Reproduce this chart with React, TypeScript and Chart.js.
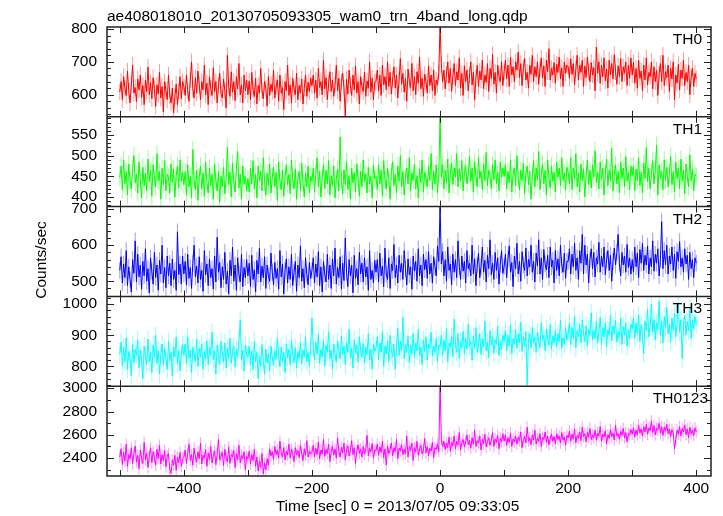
import React, { useEffect, useRef } from 'react';
import { Chart, registerables } from 'chart.js';

Chart.register(...registerables);

const TITLE = 'ae408018010_20130705093305_wam0_trn_4band_long.qdp';
const X_TITLE = 'Time [sec] 0 = 2013/07/05 09:33:05';
const Y_TITLE = 'Counts/sec';

const T_START = -500;
const T_BIN = 2;
const X_MIN = -520;
const X_MAX = 423;
const xTickLabels = [-400, -200, 0, 200, 400];
const X_MARK_STEP = 100;

const bandNames = ['TH0', 'TH1', 'TH2', 'TH3', 'TH0123'];
const bandColors = ['#ff0000', '#00ff00', '#0000ff', '#00ffff', '#ff00ff'];
const bandErrColors = ['rgba(255,0,0,0.4)', 'rgba(0,255,0,0.4)', 'rgba(0,0,255,0.4)', 'rgba(0,255,255,0.4)', 'rgba(255,0,255,0.4)'];
const bandErrors = [25, 21, 23, 29, 50];
const yMins = [533, 377, 458, 736, 2247];
const yMaxs = [806, 594, 707, 1025, 3017];
const yMajorTicks = [
  [600, 700, 800],
  [400, 450, 500, 550],
  [500, 600, 700],
  [800, 900, 1000],
  [2400, 2600, 2800, 3000],
];
const yMinorSteps = [20, 10, 20, 20, 100];

const th0 = [
  608, 640, 585, 655, 620, 598, 672, 612, 575, 633, 690, 605, 622, 580, 648, 615, 660, 592, 628, 570, 645, 610, 684, 600, 637, 588, 652, 618, 565, 630, 602, 668, 590, 625, 548, 640, 612, 585, 660, 598, 575, 620, 545, 595, 632, 570, 610, 655, 588, 640,
  625, 598, 660, 612, 580, 645, 700, 618, 590, 652, 605, 672, 630, 585, 640, 615, 690, 600, 635, 570, 655, 620, 598, 682, 610, 640, 575, 628, 665, 603, 590, 648, 612, 560, 720, 625, 595, 670, 608, 640, 582, 655, 618, 695, 600, 630, 575, 660, 612, 645,
  600, 642, 585, 668, 615, 595, 650, 572, 628, 605, 680, 612, 588, 640, 620, 565, 655, 598, 632, 610, 675, 590, 625, 645, 580, 660, 605, 622, 555, 640, 612, 690, 598, 630, 575, 650, 618, 600, 665, 585, 628, 605, 648, 572, 620, 660, 595, 638, 610, 650,
  628, 660, 605, 645, 590, 680, 622, 640, 600, 705, 618, 652, 585, 635, 670, 610, 645, 595, 628, 690, 612, 650, 580, 640, 665, 620, 535, 648, 602, 675, 630, 598, 660, 615, 688, 605, 640, 572, 655, 625, 610, 668, 595, 642, 620, 700, 608, 650, 585, 638,
  640, 675, 612, 660, 598, 690, 630, 655, 615, 700, 625, 668, 602, 648, 685, 620, 660, 590, 645, 710, 632, 665, 608, 650, 580, 678, 640, 622, 695, 612, 655, 600, 670, 635, 715, 618, 650, 595, 662, 640, 605, 688, 628, 660, 612, 675, 598, 645, 630, 668,
  815, 690, 640, 675, 618, 662, 700, 635, 680, 610, 655, 695, 628, 670, 645, 712, 620, 665, 598, 688, 640, 675, 612, 660, 700, 630, 668, 585, 650, 690, 625, 672, 645, 705, 618, 660, 638, 695, 610, 680, 650, 722, 632, 668, 605, 690, 655, 640, 700, 628,
  670, 705, 648, 690, 625, 715, 660, 685, 640, 700, 675, 730, 652, 695, 628, 682, 710, 645, 668, 620, 690, 662, 720, 640, 685, 655, 700, 632, 678, 712, 650, 688, 625, 705, 670, 740, 645, 680, 660, 698, 635, 692, 668, 715, 648, 682, 625, 700, 665, 690,
  685, 650, 710, 662, 695, 630, 678, 720, 645, 690, 668, 705, 625, 688, 652, 715, 670, 640, 698, 660, 682, 612, 745, 665, 700, 635, 690, 655, 712, 642, 678, 620, 705, 660, 695, 648, 722, 670, 632, 688, 655, 710, 640, 685, 665, 700, 628, 690, 650, 712,
  660, 698, 635, 680, 620, 705, 650, 672, 612, 690, 645, 712, 630, 668, 655, 700, 618, 685, 640, 675, 598, 662, 695, 640, 720, 628, 670, 652, 690, 610, 680, 648, 700, 585, 660, 635, 692, 615, 675, 650, 705, 628, 668, 640, 690, 600, 655, 680, 625, 665,
  648,
];

const th1 = [
  448, 475, 418, 490, 432, 462, 405, 480, 440, 420, 468, 500, 435, 455, 410, 485, 442, 398, 472, 428, 458, 415, 492, 438, 465, 402, 478, 445, 425, 505, 440, 462, 395, 470, 430, 488, 415, 455, 448, 410, 480, 435, 468, 400, 452, 475, 422, 490, 438, 460,
  430, 462, 405, 478, 425, 450, 398, 515, 440, 418, 465, 392, 448, 475, 420, 458, 402, 485, 435, 410, 470, 428, 455, 395, 480, 440, 415, 462, 388, 450, 425, 472, 408, 445, 520, 430, 460, 400, 482, 438, 412, 468, 510, 422, 455, 395, 475, 432, 450, 415,
  445, 412, 470, 432, 488, 420, 455, 398, 475, 440, 462, 415, 495, 436, 405, 458, 428, 480, 410, 448, 472, 425, 460, 392, 485, 438, 418, 465, 402, 450, 478, 430, 455, 408, 490, 442, 420, 468, 395, 445, 462, 415, 482, 435, 400, 458, 425, 475, 410, 450,
  438, 470, 412, 455, 495, 425, 462, 400, 448, 478, 420, 465, 432, 488, 405, 452, 428, 475, 398, 442, 468, 415, 545, 440, 408, 466, 430, 485, 418, 452, 395, 470, 435, 460, 412, 480, 445, 402, 462, 425, 490, 438, 455, 410, 472, 432, 450, 398, 478, 445,
  450, 418, 478, 432, 465, 402, 488, 440, 420, 470, 445, 395, 462, 485, 428, 455, 410, 475, 438, 500, 425, 462, 405, 448, 470, 432, 495, 415, 458, 440, 480, 420, 452, 398, 468, 435, 490, 412, 460, 445, 425, 475, 440, 505, 418, 462, 432, 478, 410, 455,
  595, 448, 478, 420, 465, 435, 492, 410, 458, 482, 430, 470, 448, 505, 425, 468, 440, 488, 415, 460, 476, 432, 455, 498, 438, 470, 412, 485, 450, 425, 495, 445, 462, 418, 480, 440, 508, 428, 465, 452, 420, 478, 442, 490, 432, 460, 415, 485, 448, 470,
  450, 478, 420, 462, 435, 490, 412, 455, 470, 428, 500, 445, 418, 465, 440, 482, 408, 458, 475, 430, 462, 395, 450, 488, 425, 470, 442, 510, 418, 455, 480, 432, 465, 405, 490, 445, 422, 475, 438, 460, 412, 485, 448, 470, 428, 495, 440, 458, 418, 472,
  460, 432, 495, 418, 470, 445, 505, 425, 458, 412, 480, 440, 468, 400, 455, 490, 430, 465, 422, 478, 448, 512, 435, 460, 420, 485, 442, 470, 405, 458, 492, 428, 465, 440, 518, 415, 455, 478, 432, 462, 410, 485, 445, 470, 425, 498, 438, 460, 418, 475,
  452, 475, 415, 468, 440, 495, 428, 460, 410, 482, 445, 520, 438, 470, 420, 458, 488, 432, 465, 525, 405, 478, 445, 462, 418, 490, 440, 472, 425, 455, 498, 430, 462, 412, 485, 445, 470, 420, 492, 438, 465, 408, 480, 450, 425, 502, 440, 468, 415, 455,
  450,
];

const th2 = [
  530, 568, 495, 548, 510, 585, 488, 540, 505, 470, 560, 522, 612, 498, 575, 512, 545, 478, 555, 515, 590, 500, 535, 468, 565, 528, 492, 580, 510, 545, 475, 558, 520, 600, 495, 538, 482, 570, 515, 550, 488, 562, 505, 530, 475, 637, 518, 548, 492, 570,
  520, 555, 490, 575, 508, 538, 480, 550, 600, 512, 542, 495, 568, 505, 530, 472, 585, 518, 548, 488, 562, 510, 535, 478, 570, 498, 622, 525, 552, 482, 540, 505, 580, 492, 528, 465, 558, 515, 595, 500, 545, 475, 565, 520, 498, 575, 485, 538, 510, 560,
  515, 550, 485, 572, 505, 532, 470, 558, 520, 592, 498, 542, 510, 568, 480, 545, 515, 500, 578, 525, 490, 552, 508, 535, 478, 585, 512, 548, 465, 530, 562, 495, 540, 505, 575, 488, 525, 555, 472, 545, 510, 598, 500, 535, 482, 565, 518, 490, 552, 508,
  530, 565, 495, 548, 512, 582, 488, 540, 470, 555, 520, 498, 575, 505, 545, 480, 562, 515, 592, 492, 538, 510, 568, 478, 550, 502, 620, 525, 485, 560, 515, 545, 468, 572, 508, 535, 490, 580, 520, 550, 498, 565, 512, 540, 475, 585, 505, 530, 495, 558,
  525, 560, 498, 578, 515, 542, 485, 592, 520, 505, 565, 480, 548, 530, 602, 510, 545, 495, 572, 525, 550, 505, 585, 535, 490, 562, 518, 540, 478, 570, 528, 555, 500, 590, 515, 545, 488, 575, 532, 560, 508, 582, 520, 550, 495, 568, 540, 515, 598, 555,
  710, 548, 582, 515, 560, 500, 595, 530, 548, 490, 575, 525, 560, 510, 612, 540, 505, 570, 528, 555, 495, 585, 535, 550, 515, 600, 520, 562, 488, 545, 578, 510, 540, 595, 525, 558, 498, 572, 535, 615, 518, 550, 505, 580, 530, 565, 492, 548, 585, 522,
  540, 575, 510, 562, 598, 525, 552, 485, 570, 535, 605, 520, 555, 500, 582, 545, 530, 592, 515, 560, 540, 600, 525, 555, 498, 578, 542, 615, 520, 565, 505, 588, 548, 532, 572, 510, 595, 540, 558, 495, 585, 530, 562, 515, 600, 545, 525, 578, 508, 555,
  555, 590, 520, 575, 540, 605, 530, 565, 505, 585, 550, 630, 520, 600, 545, 575, 495, 560, 590, 535, 580, 512, 565, 548, 608, 525, 570, 540, 595, 518, 560, 585, 530, 572, 500, 555, 592, 545, 580, 630, 550, 515, 580, 545, 570, 525, 602, 538, 565, 520,
  560, 525, 595, 540, 578, 510, 588, 550, 605, 530, 572, 545, 598, 520, 565, 540, 612, 528, 575, 550, 590, 515, 560, 665, 535, 585, 545, 600, 520, 570, 548, 595, 530, 575, 508, 582, 555, 610, 540, 565, 525, 590, 548, 572, 505, 580, 535, 560, 510, 565,
  550,
];

const th3 = [
  840, 878, 800, 862, 815, 892, 790, 848, 825, 770, 870, 812, 855, 835, 885, 795, 852, 820, 760, 865, 832, 805, 888, 815, 845, 780, 868, 828, 900, 810, 850, 775, 838, 872, 805, 858, 825, 790, 880, 818, 845, 768, 862, 830, 895, 808, 852, 785, 840, 870,
  835, 872, 810, 895, 825, 852, 780, 862, 840, 815, 888, 800, 858, 830, 872, 790, 848, 825, 882, 805, 860, 835, 910, 820, 850, 775, 868, 838, 805, 880, 842, 815, 875, 795, 858, 828, 890, 810, 848, 865, 798, 855, 830, 882, 950, 820, 852, 785, 868, 840,
  830, 865, 805, 850, 790, 880, 815, 845, 760, 835, 800, 870, 818, 775, 855, 810, 840, 785, 865, 830, 805, 850, 822, 890, 835, 798, 862, 815, 845, 780, 872, 828, 855, 805, 885, 838, 812, 860, 795, 848, 825, 878, 808, 852, 830, 895, 815, 845, 800, 862,
  955, 860, 820, 878, 840, 902, 810, 855, 830, 885, 800, 868, 845, 912, 825, 852, 790, 872, 840, 815, 882, 850, 825, 898, 838, 865, 805, 878, 845, 920, 828, 858, 795, 885, 842, 868, 815, 895, 850, 830, 875, 810, 862, 838, 905, 820, 855, 790, 870, 848,
  860, 895, 820, 875, 845, 912, 800, 865, 840, 882, 815, 900, 850, 830, 872, 790, 862, 922, 835, 880, 852, 958, 825, 870, 845, 898, 812, 868, 840, 905, 828, 875, 850, 918, 835, 862, 805, 885, 848, 895, 820, 872, 858, 910, 832, 865, 845, 890, 815, 868,
  862, 900, 835, 885, 850, 922, 815, 875, 860, 895, 830, 952, 870, 845, 905, 825, 882, 860, 912, 840, 890, 855, 935, 865, 880, 820, 898, 858, 925, 845, 872, 905, 838, 888, 862, 945, 850, 878, 828, 915, 868, 895, 842, 885, 870, 930, 835, 880, 855, 900,
  880, 915, 850, 900, 865, 935, 840, 890, 870, 918, 858, 905, 875, 942, 848, 895, 862, 912, 740, 885, 905, 860, 925, 875, 895, 845, 910, 880, 860, 940, 885, 900, 850, 920, 890, 868, 935, 855, 898, 875, 915, 862, 905, 880, 948, 858, 892, 870, 925, 885,
  905, 940, 870, 925, 890, 962, 860, 915, 895, 935, 875, 950, 905, 880, 930, 865, 920, 900, 972, 885, 915, 890, 945, 875, 910, 958, 870, 925, 895, 940, 862, 918, 900, 965, 882, 930, 905, 948, 878, 912, 892, 955, 870, 928, 900, 940, 865, 918, 890, 935,
  920, 955, 890, 940, 905, 965, 880, 935, 900, 840, 945, 915, 985, 895, 930, 1000, 910, 950, 885, 940, 918, 1010, 900, 945, 875, 960, 925, 990, 905, 935, 880, 955, 915, 970, 895, 940, 1005, 910, 950, 825, 930, 965, 900, 945, 915, 985, 890, 950, 920, 960,
  935,
];

const th0123 = [
  2410, 2480, 2345, 2450, 2375, 2520, 2330, 2430, 2395, 2490, 2350, 2440, 2505, 2365, 2425, 2310, 2470, 2400, 2355, 2535, 2385, 2445, 2320, 2415, 2490, 2360, 2455, 2405, 2340, 2475, 2395, 2510, 2350, 2430, 2380, 2465, 2325, 2420, 2440, 2300, 2270, 2385, 2340, 2425, 2295, 2410, 2360, 2450, 2330, 2395,
  2405, 2470, 2355, 2440, 2520, 2380, 2430, 2340, 2485, 2410, 2365, 2455, 2395, 2530, 2350, 2425, 2400, 2475, 2330, 2445, 2390, 2500, 2360, 2420, 2460, 2345, 2435, 2560, 2385, 2415, 2450, 2335, 2475, 2400, 2370, 2495, 2355, 2430, 2410, 2465, 2320, 2440, 2385, 2510, 2360, 2425, 2395, 2455, 2300, 2415,
  2395, 2460, 2350, 2430, 2380, 2475, 2330, 2410, 2290, 2375, 2320, 2440, 2265, 2360, 2300, 2395, 2340, 2480, 2420, 2455, 2390, 2500, 2430, 2470, 2400, 2545, 2445, 2410, 2490, 2385, 2460, 2425, 2520, 2400, 2475, 2440, 2370, 2490, 2430, 2465, 2405, 2510, 2445, 2380, 2480, 2425, 2550, 2410, 2460, 2435,
  2450, 2510, 2410, 2485, 2430, 2540, 2395, 2470, 2435, 2560, 2415, 2475, 2440, 2520, 2370, 2460, 2500, 2425, 2480, 2400, 2575, 2455, 2410, 2495, 2445, 2530, 2385, 2470, 2505, 2420, 2465, 2550, 2430, 2490, 2355, 2460, 2515, 2440, 2480, 2410, 2500, 2435, 2470, 2595, 2420, 2485, 2455, 2525, 2400, 2470,
  2465, 2520, 2425, 2495, 2450, 2545, 2405, 2480, 2340, 2505, 2440, 2475, 2530, 2420, 2490, 2455, 2560, 2395, 2485, 2460, 2515, 2430, 2475, 2440, 2590, 2410, 2500, 2465, 2530, 2380, 2490, 2455, 2545, 2425, 2480, 2510, 2435, 2470, 2570, 2445, 2500, 2420, 2485, 2460, 2535, 2405, 2490, 2475, 2520, 2455,
  3050, 2560, 2500, 2545, 2475, 2530, 2490, 2580, 2460, 2535, 2505, 2590, 2480, 2545, 2515, 2620, 2470, 2530, 2560, 2495, 2540, 2600, 2515, 2555, 2485, 2575, 2520, 2640, 2500, 2550, 2530, 2590, 2470, 2560, 2525, 2605, 2495, 2545, 2575, 2510, 2550, 2620, 2500, 2565, 2535, 2595, 2480, 2570, 2540, 2610,
  2545, 2600, 2510, 2575, 2535, 2615, 2500, 2565, 2540, 2590, 2520, 2580, 2550, 2625, 2490, 2560, 2585, 2530, 2665, 2545, 2575, 2515, 2600, 2555, 2640, 2520, 2570, 2545, 2610, 2500, 2580, 2560, 2625, 2535, 2590, 2515, 2570, 2605, 2545, 2585, 2525, 2610, 2560, 2590, 2530, 2620, 2555, 2580, 2510, 2595,
  2575, 2630, 2545, 2605, 2565, 2650, 2530, 2595, 2570, 2625, 2550, 2665, 2585, 2610, 2540, 2620, 2580, 2655, 2560, 2600, 2575, 2640, 2555, 2615, 2590, 2670, 2545, 2605, 2580, 2635, 2520, 2600, 2570, 2645, 2585, 2615, 2555, 2680, 2590, 2610, 2565, 2630, 2595, 2655, 2575, 2620, 2540, 2610, 2600, 2645,
  2605, 2660, 2580, 2640, 2600, 2685, 2615, 2650, 2590, 2670, 2625, 2690, 2605, 2660, 2635, 2720, 2620, 2680, 2600, 2655, 2640, 2700, 2615, 2670, 2595, 2665, 2630, 2690, 2610, 2650, 2585, 2645, 2620, 2480, 2560, 2640, 2605, 2670, 2590, 2655, 2625, 2685, 2600, 2650, 2575, 2665, 2610, 2640, 2595, 2660,
  2625,
];

const bandSeries = [th0, th1, th2, th3, th0123];
const panelIds = ['y0', 'y1', 'y2', 'y3', 'y4'];

const FONT = '"Liberation Sans", Arial, Helvetica, sans-serif';
const FONT_SIZE = 15.5;
const INK = '#000000';
const FRAME = '#222222';

const fmtMinus = (v: number) => (v < 0 ? '\u2212' + String(-v) : String(v));

const decorPlugin = {
  id: 'qdpDecor',
  beforeDatasetDraw(chart: any, args: any) {
    const k = args.index;
    const meta = chart.getDatasetMeta(k);
    const ys = chart.scales[meta.yAxisID];
    const ca = chart.chartArea;
    const ctx = chart.ctx as CanvasRenderingContext2D;
    ctx.save();
    ctx.beginPath();
    ctx.rect(ca.left, ys.top, ca.right - ca.left, ys.bottom - ys.top);
    ctx.clip();
    // error bars under the line
    const vals = bandSeries[k];
    const err = bandErrors[k];
    ctx.strokeStyle = bandErrColors[k];
    ctx.lineWidth = 1;
    ctx.beginPath();
    meta.data.forEach((pt: any, i: number) => {
      const x = pt.x;
      ctx.moveTo(x, ys.getPixelForValue(vals[i] - err));
      ctx.lineTo(x, ys.getPixelForValue(vals[i] + err));
    });
    ctx.stroke();
  },
  afterDatasetDraw(chart: any) {
    chart.ctx.restore();
  },
  afterDraw(chart: any) {
    const ctx = chart.ctx as CanvasRenderingContext2D;
    const ca = chart.chartArea;
    const xs = chart.scales.x;
    ctx.save();
    const line = (x1: number, y1: number, x2: number, y2: number) => {
      ctx.beginPath();
      ctx.moveTo(x1, y1);
      ctx.lineTo(x2, y2);
      ctx.stroke();
    };
    ctx.strokeStyle = FRAME;
    ctx.fillStyle = INK;
    panelIds.forEach((id, k) => {
      const s = chart.scales[id];
      ctx.lineWidth = 1;
      const step = yMinorSteps[k];
      for (let v = Math.ceil(s.min / step) * step; v <= s.max + 1e-9; v += step) {
        const major = yMajorTicks[k].indexOf(v) >= 0;
        const len = major ? 7 : 4;
        const y = Math.round(s.getPixelForValue(v)) + 0.5;
        line(ca.left, y, ca.left + len, y);
        line(ca.right, y, ca.right - len, y);
      }
      for (let t = Math.ceil(X_MIN / X_MARK_STEP) * X_MARK_STEP; t <= X_MAX; t += X_MARK_STEP) {
        const x = Math.round(xs.getPixelForValue(t)) + 0.5;
        line(x, s.top, x, s.top + 6);
        line(x, s.bottom, x, s.bottom - 6);
      }
      ctx.lineWidth = 1.5;
      if (k < panelIds.length - 1) line(ca.left, s.bottom, ca.right, s.bottom);
      ctx.font = `${FONT_SIZE}px ${FONT}`;
      ctx.textAlign = 'right';
      ctx.textBaseline = 'alphabetic';
      const rightX = k === panelIds.length - 1 ? ca.right - 3 : ca.right - 9;
      ctx.fillText(bandNames[k], rightX, s.top + 17);
    });
    ctx.lineWidth = 1.5;
    ctx.strokeRect(ca.left, ca.top, ca.right - ca.left, ca.bottom - ca.top);

    ctx.font = `${FONT_SIZE}px ${FONT}`;
    ctx.textBaseline = 'alphabetic';
    ctx.textAlign = 'left';
    ctx.fillText(TITLE, ca.left, 21);

    ctx.textAlign = 'center';
    ctx.fillText(X_TITLE, 397.5, 510.5);

    ctx.save();
    ctx.translate(46, 260);
    ctx.rotate(-Math.PI / 2);
    ctx.textAlign = 'center';
    ctx.fillText(Y_TITLE, 0, 0);
    ctx.restore();

    ctx.restore();
  },
};

export default function App() {
  const canvasRef = useRef<HTMLCanvasElement | null>(null);

  useEffect(() => {
    const canvas = canvasRef.current;
    if (!canvas) return;

    const datasets = bandSeries.map((vals, k) => ({
      label: bandNames[k],
      data: vals.map((v, i) => ({ x: T_START + i * T_BIN, y: v })),
      yAxisID: panelIds[k],
      xAxisID: 'x',
      borderColor: bandColors[k],
      backgroundColor: bandColors[k],
      borderWidth: 1,
      pointRadius: 0,
      tension: 0,
      fill: false,
    }));

    const scales: any = {
      x: {
        type: 'linear',
        position: 'bottom',
        min: X_MIN,
        max: X_MAX,
        grid: { display: false, drawTicks: false },
        border: { display: false },
        afterBuildTicks: (scale: any) => {
          scale.ticks = xTickLabels.map((v) => ({ value: v }));
        },
        afterFit: (scale: any) => {
          scale.height = 40;
        },
        ticks: {
          autoSkip: false,
          maxRotation: 0,
          padding: 3,
          color: INK,
          font: { family: FONT, size: FONT_SIZE },
          callback: (v: any) => fmtMinus(Number(v)),
        },
      },
    };

    panelIds.forEach((id, k) => {
      scales[id] = {
        type: 'linear',
        position: 'left',
        stack: 'panels',
        stackWeight: 1,
        weight: panelIds.length - k,
        offset: false,
        min: yMins[k],
        max: yMaxs[k],
        grid: { display: false, drawTicks: false },
        border: { display: false },
        afterBuildTicks: (scale: any) => {
          scale.ticks = yMajorTicks[k].map((v) => ({ value: v }));
        },
        afterFit: (scale: any) => {
          scale.width = 107;
        },
        ticks: {
          autoSkip: false,
          padding: 10,
          color: INK,
          font: { family: FONT, size: FONT_SIZE },
          callback: (v: any) => String(v),
        },
      };
    });

    const chart = new Chart(canvas, {
      type: 'line',
      data: { datasets },
      options: {
        animation: false,
        responsive: false,
        maintainAspectRatio: false,
        parsing: false as any,
        normalized: true,
        events: [],
        layout: { padding: { left: 0, right: 12, top: 27, bottom: 0 } },
        plugins: {
          legend: { display: false },
          tooltip: { enabled: false },
          title: { display: false },
        },
        scales,
      },
      plugins: [decorPlugin],
    });

    return () => {
      chart.destroy();
    };
  }, []);

  return (
    <div style={{ position: 'fixed', left: 0, top: 0, width: 723, height: 516, background: '#ffffff' }}>
      <canvas ref={canvasRef} width={723} height={516} style={{ width: 723, height: 516, display: 'block' }} />
    </div>
  );
}
